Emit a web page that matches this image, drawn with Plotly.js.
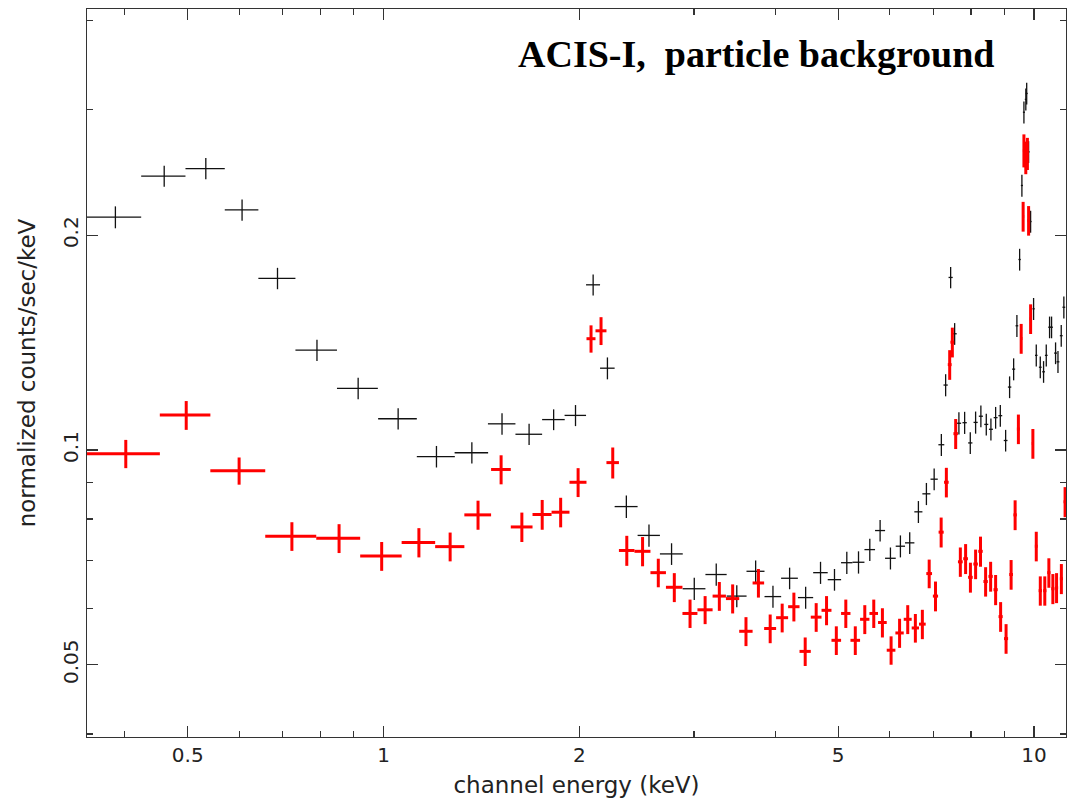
<!DOCTYPE html>
<html>
<head>
<meta charset="utf-8">
<script src="https://cdn.plot.ly/plotly-3.0.1.min.js"></script>
<style>
  html, body { margin: 0; padding: 0; background: #fff; }
  #chart { width: 1070px; height: 804px; }
</style>
</head>
<body>
<div id="chart"></div>
<script>
// ---- Black data group: energy (keV), half bin width, rate, rate error ----
const blackEnergy = [0.387, 0.460, 0.533, 0.606, 0.687, 0.790, 0.914, 1.053, 1.206, 1.367,
  1.521, 1.674, 1.826, 1.973, 2.100, 2.209, 2.362, 2.559, 2.772, 3.004,
  3.247, 3.492, 3.733, 3.969, 4.210, 4.456, 4.697, 4.935, 5.155, 5.373,
  5.592, 5.800, 6.016, 6.232, 6.441, 6.642, 6.833, 7.023, 7.204, 7.314,
  7.445, 7.551, 7.666, 7.823, 7.981, 8.133, 8.286, 8.446, 8.586, 8.730,
  8.876, 9.045, 9.173, 9.305, 9.413, 9.504, 9.581, 9.650, 9.715, 9.745,
  9.811, 9.881, 9.986, 10.081, 10.225, 10.345, 10.444, 10.567, 10.642, 10.794,
  10.886, 11.013, 11.115];
const blackEnergyErr = [0.037, 0.036, 0.037, 0.036, 0.045, 0.058, 0.066, 0.072, 0.081, 0.081,
  0.074, 0.079, 0.073, 0.075, 0.052, 0.057, 0.096, 0.101, 0.112, 0.121,
  0.122, 0.123, 0.119, 0.117, 0.125, 0.120, 0.121, 0.117, 0.104, 0.114,
  0.105, 0.103, 0.114, 0.103, 0.107, 0.095, 0.097, 0.090, 0.075, 0.055,
  0.055, 0.055, 0.060, 0.060, 0.060, 0.060, 0.060, 0.060, 0.060, 0.060,
  0.060, 0.060, 0.055, 0.050, 0.045, 0.040, 0.035, 0.035, 0.035, 0.035,
  0.035, 0.035, 0.040, 0.045, 0.050, 0.050, 0.050, 0.050, 0.050, 0.055,
  0.055, 0.055, 0.055];
const blackRate = [0.212, 0.242, 0.248, 0.217, 0.174, 0.138, 0.122, 0.1106, 0.0979, 0.0991,
  0.1088, 0.1052, 0.1103, 0.1118, 0.1704, 0.1302, 0.0833, 0.0759, 0.0715, 0.0639,
  0.0669, 0.0624, 0.0676, 0.0623, 0.0661, 0.0621, 0.0673, 0.0658, 0.0695, 0.0696,
  0.0725, 0.0771, 0.0705, 0.0733, 0.0741, 0.0819, 0.0868, 0.0910, 0.1017, 0.1233,
  0.1745, 0.1455, 0.1090, 0.1092, 0.1023, 0.1093, 0.1115, 0.1086, 0.1069, 0.1110,
  0.1117, 0.1031, 0.1225, 0.1298, 0.1493, 0.1849, 0.2348, 0.2974, 0.3100, 0.3160,
  0.2617, 0.2090, 0.1577, 0.1357, 0.1306, 0.1287, 0.1357, 0.1486, 0.1486, 0.1367,
  0.1329, 0.1446, 0.1585];
const blackRateErr = [0.0075, 0.0082, 0.0085, 0.0075, 0.0060, 0.0047, 0.0042, 0.0038, 0.0034, 0.0034,
  0.0038, 0.0036, 0.0037, 0.0038, 0.0058, 0.0046, 0.0030, 0.0027, 0.0025, 0.0023,
  0.0024, 0.0022, 0.0024, 0.0022, 0.0023, 0.0022, 0.0024, 0.0023, 0.0025, 0.0025,
  0.0026, 0.0027, 0.0025, 0.0026, 0.0026, 0.0029, 0.0031, 0.0032, 0.0036, 0.0044,
  0.0060, 0.0051, 0.0039, 0.0039, 0.0036, 0.0039, 0.0039, 0.0038, 0.0038, 0.0039,
  0.0039, 0.0036, 0.0043, 0.0046, 0.0053, 0.0065, 0.0083, 0.0105, 0.0110, 0.0110,
  0.0092, 0.0074, 0.0056, 0.0048, 0.0046, 0.0045, 0.0048, 0.0052, 0.0052, 0.0048,
  0.0047, 0.0051, 0.0056];

// ---- Red data group ----
const redEnergy = [0.4015, 0.4973, 0.5997, 0.7229, 0.8543, 0.9934, 1.1333, 1.2658, 1.3972, 1.5161,
  1.6317, 1.7535, 1.8719, 1.9912, 2.0844, 2.1595, 2.251, 2.3657, 2.5016, 2.6449,
  2.7991, 2.9594, 3.1217, 3.2828, 3.4412, 3.6075, 3.7699, 3.9302, 4.1007, 4.2741,
  4.4489, 4.6255, 4.798, 4.967, 5.1368, 5.3123, 5.4937, 5.671, 5.8474, 6.0299,
  6.2139, 6.3958, 6.571, 6.7356, 6.9004, 7.056, 7.199, 7.333, 7.420, 7.490,
  7.579, 7.705, 7.850, 7.985, 8.133, 8.275, 8.426, 8.577, 8.730, 8.886,
  9.059, 9.222, 9.354, 9.463, 9.557, 9.623, 9.650, 9.714, 9.770, 9.811,
  9.881, 9.961, 10.081, 10.226, 10.390, 10.541, 10.691, 10.832, 11.018, 11.164];
const redEnergyErr = [0.0515, 0.0444, 0.0581, 0.0651, 0.0663, 0.0728, 0.0672, 0.0654, 0.0661, 0.0528,
  0.0628, 0.0591, 0.0593, 0.0600, 0.0332, 0.0419, 0.0497, 0.0651, 0.0708, 0.0725,
  0.0817, 0.0786, 0.0837, 0.0775, 0.0809, 0.0855, 0.0770, 0.0833, 0.0872, 0.0862,
  0.0887, 0.0880, 0.0845, 0.0845, 0.0853, 0.0903, 0.0910, 0.0860, 0.0900, 0.0924,
  0.0916, 0.0900, 0.0850, 0.0800, 0.0700, 0.0650, 0.0650, 0.0600, 0.0500, 0.0500,
  0.0600, 0.0650, 0.0650, 0.0650, 0.0650, 0.0650, 0.0650, 0.0650, 0.0650, 0.0650,
  0.0650, 0.0600, 0.0550, 0.0500, 0.0400, 0.0350, 0.0350, 0.0350, 0.0350, 0.0350,
  0.0350, 0.0400, 0.0500, 0.0600, 0.0600, 0.0600, 0.0600, 0.0600, 0.0600, 0.0600];
const redRate = [0.0988, 0.1119, 0.0935, 0.0757, 0.0752, 0.0710, 0.0742, 0.0732, 0.0811, 0.0939,
  0.0780, 0.0812, 0.0818, 0.0901, 0.1432, 0.1469, 0.0960, 0.0723, 0.0721, 0.0673,
  0.0642, 0.0590, 0.0597, 0.0624, 0.0619, 0.0557, 0.0651, 0.0562, 0.0582, 0.0603,
  0.0522, 0.0583, 0.0596, 0.0541, 0.0590, 0.0541, 0.0579, 0.0590, 0.0573, 0.0524,
  0.0554, 0.0579, 0.0563, 0.0570, 0.0671, 0.0624, 0.0767, 0.0901, 0.1317, 0.1416,
  0.1054, 0.0697, 0.0704, 0.0663, 0.0692, 0.0721, 0.0654, 0.0665, 0.0637, 0.0584,
  0.0544, 0.0669, 0.0811, 0.1070, 0.1433, 0.2125, 0.2629, 0.2570, 0.2603, 0.2097,
  0.1527, 0.1021, 0.0733, 0.0635, 0.0635, 0.0673, 0.0639, 0.0641, 0.0660, 0.0846];
const redRateErr = [0.0045, 0.0052, 0.0041, 0.0035, 0.0035, 0.0033, 0.0035, 0.0034, 0.0038, 0.0044,
  0.0037, 0.0039, 0.0039, 0.0042, 0.0063, 0.0066, 0.0048, 0.0035, 0.0034, 0.0031,
  0.0030, 0.0027, 0.0027, 0.0029, 0.0029, 0.0026, 0.0030, 0.0026, 0.0027, 0.0028,
  0.0024, 0.0027, 0.0028, 0.0025, 0.0027, 0.0025, 0.0027, 0.0027, 0.0027, 0.0024,
  0.0026, 0.0027, 0.0026, 0.0027, 0.0031, 0.0030, 0.0037, 0.0043, 0.0063, 0.0068,
  0.0051, 0.0033, 0.0034, 0.0032, 0.0033, 0.0035, 0.0031, 0.0032, 0.0031, 0.0028,
  0.0026, 0.0032, 0.0039, 0.0051, 0.0069, 0.0102, 0.0140, 0.0135, 0.0135, 0.0100,
  0.0073, 0.0049, 0.0035, 0.0030, 0.0030, 0.0032, 0.0031, 0.0031, 0.0032, 0.0041];

// ---- Axis ticks ----
const xMajorTicks = [0.5, 1, 2, 5, 10];
const xMajorLabels = ["0.5", "1", "2", "5", "10"];
const xMinorTicks = [0.4, 0.6, 0.7, 0.8, 0.9, 3, 4, 6, 7, 8, 9];
const yMajorTicks = [0.05, 0.1, 0.2];
const yMajorLabels = ["0.05", "0.1", "0.2"];
const yMinorTicks = [0.04, 0.06, 0.07, 0.08, 0.09, 0.3, 0.4];

const chartTitle = "ACIS-I,\u00a0 particle background";
const xTitle = "channel energy (keV)";
const yTitle = "normalized counts/sec/keV";

function group(x, xe, y, ye, color, thick) {
  return {
    type: "scatter", mode: "markers",
    x: x, y: y,
    marker: {size: 1, color: color, opacity: 0},
    error_x: {type: "data", array: xe, visible: true, color: color, thickness: thick, width: 0},
    error_y: {type: "data", array: ye, visible: true, color: color, thickness: thick, width: 0},
    hoverinfo: "skip", showlegend: false, cliponaxis: true
  };
}

const traces = [
  group(blackEnergy, blackEnergyErr, blackRate, blackRateErr, "#111111", 1.3),
  group(redEnergy, redEnergyErr, redRate, redRateErr, "#ff0000", 3)
];

const tickFont = {family: "DejaVu Sans", size: 20, color: "#222"};
const titleFont = {family: "DejaVu Sans", size: 23, color: "#222"};

const layout = {
  width: 1070, height: 804,
  margin: {l: 87, r: 4, t: 9, b: 67, autoexpand: false},
  paper_bgcolor: "#fff", plot_bgcolor: "#fff",
  showlegend: false,
  xaxis: {
    type: "log", range: [Math.log10(0.35), Math.log10(11.2)], autorange: false,
    showline: true, linecolor: "#333", linewidth: 1.3, mirror: "ticks",
    ticks: "inside", ticklen: 11, tickwidth: 1.3, tickcolor: "#333",
    tickmode: "array", tickvals: xMajorTicks, ticktext: xMajorLabels,
    minor: {tickmode: "array", tickvals: xMinorTicks, ticks: "inside", ticklen: 6, tickwidth: 1.3, tickcolor: "#333", showgrid: false},
    showgrid: false, zeroline: false,
    tickfont: tickFont,
    title: {text: xTitle, font: titleFont, standoff: 10}
  },
  yaxis: {
    type: "log", range: [Math.log10(0.0396), Math.log10(0.415)], autorange: false,
    showline: true, linecolor: "#333", linewidth: 1.3, mirror: "ticks",
    ticks: "inside", ticklen: 11, tickwidth: 1.3, tickcolor: "#333",
    tickmode: "array", tickvals: yMajorTicks, ticktext: yMajorLabels,
    minor: {tickmode: "array", tickvals: yMinorTicks, ticks: "inside", ticklen: 6, tickwidth: 1.3, tickcolor: "#333", showgrid: false},
    showgrid: false, zeroline: false,
    tickangle: -90,
    tickfont: tickFont,
    title: {text: yTitle, font: titleFont, standoff: 16}
  },
  annotations: [{
    text: "<b>" + chartTitle + "</b>",
    xref: "paper", yref: "paper",
    x: (516 - 87) / 979, y: (737 - 54) / 728,
    xanchor: "left", yanchor: "middle",
    showarrow: false,
    font: {family: "Liberation Serif", size: 38, color: "#000"}
  }]
};

Plotly.newPlot("chart", traces, layout, {staticPlot: true, displayModeBar: false});
</script>
</body>
</html>
